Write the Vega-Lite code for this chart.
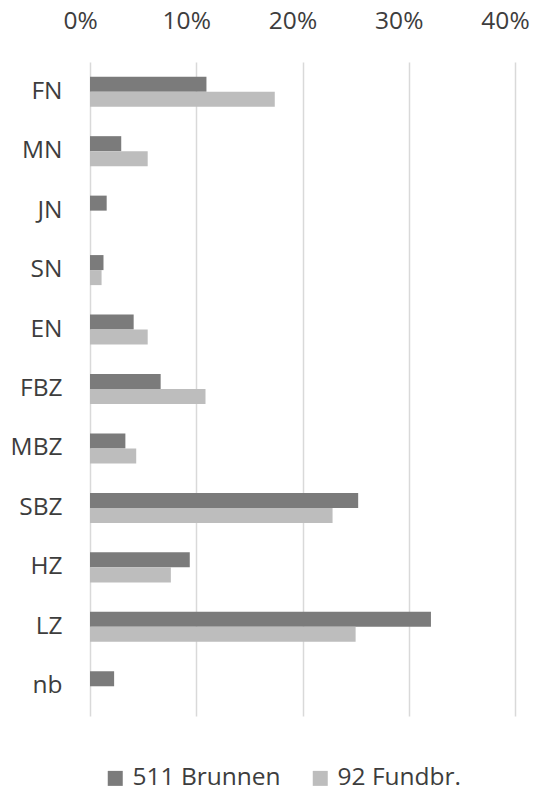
{
  "$schema": "https://vega.github.io/schema/vega-lite/v6.json",
  "width": 425,
  "height": 654,
  "autosize": "none",
  "padding": {"left": 90, "top": 62, "right": 25, "bottom": 83},
  "background": "white",
  "config": {
    "view": {"stroke": null},
    "font": "Open Sans",
    "axis": {"labelFont": "Open Sans", "labelColor": "#3d3d3d", "labelFontSize": 24.5}
  },
  "data": {
    "values": [
      {"cat": "FN", "series": "511 Brunnen", "value": 0.1096},
      {"cat": "FN", "series": "92 Fundbr.", "value": 0.1739},
      {"cat": "MN", "series": "511 Brunnen", "value": 0.0294},
      {"cat": "MN", "series": "92 Fundbr.", "value": 0.0543},
      {"cat": "JN", "series": "511 Brunnen", "value": 0.0157},
      {"cat": "JN", "series": "92 Fundbr.", "value": 0},
      {"cat": "SN", "series": "511 Brunnen", "value": 0.0127},
      {"cat": "SN", "series": "92 Fundbr.", "value": 0.0109},
      {"cat": "EN", "series": "511 Brunnen", "value": 0.0411},
      {"cat": "EN", "series": "92 Fundbr.", "value": 0.0543},
      {"cat": "FBZ", "series": "511 Brunnen", "value": 0.0665},
      {"cat": "FBZ", "series": "92 Fundbr.", "value": 0.1087},
      {"cat": "MBZ", "series": "511 Brunnen", "value": 0.0333},
      {"cat": "MBZ", "series": "92 Fundbr.", "value": 0.0435},
      {"cat": "SBZ", "series": "511 Brunnen", "value": 0.2524},
      {"cat": "SBZ", "series": "92 Fundbr.", "value": 0.2283},
      {"cat": "HZ", "series": "511 Brunnen", "value": 0.0939},
      {"cat": "HZ", "series": "92 Fundbr.", "value": 0.0761},
      {"cat": "LZ", "series": "511 Brunnen", "value": 0.3209},
      {"cat": "LZ", "series": "92 Fundbr.", "value": 0.25},
      {"cat": "nb", "series": "511 Brunnen", "value": 0.0227},
      {"cat": "nb", "series": "92 Fundbr.", "value": 0}
    ]
  },
  "mark": {"type": "bar"},
  "encoding": {
    "y": {
      "field": "cat",
      "type": "nominal",
      "sort": ["FN", "MN", "JN", "SN", "EN", "FBZ", "MBZ", "SBZ", "HZ", "LZ", "nb"],
      "scale": {"paddingInner": 0.495, "paddingOuter": 0.2475},
      "axis": {"title": null, "ticks": false, "domain": false, "labelPadding": 28}
    },
    "yOffset": {"field": "series", "type": "nominal", "sort": ["511 Brunnen", "92 Fundbr."]},
    "x": {
      "field": "value",
      "type": "quantitative",
      "scale": {"domain": [0, 0.4], "nice": false},
      "axis": {
        "orient": "top",
        "title": null,
        "format": ".0%",
        "values": [0, 0.1, 0.2, 0.3, 0.4],
        "ticks": false,
        "domain": false,
        "labelFlush": false,
        "labelPadding": 29,
        "labelOffset": -10,
        "grid": true,
        "gridColor": "#d9d9d9",
        "gridWidth": 1.5
      }
    },
    "color": {
      "field": "series",
      "type": "nominal",
      "sort": ["511 Brunnen", "92 Fundbr."],
      "scale": {"domain": ["511 Brunnen", "92 Fundbr."], "range": ["#7b7b7b", "#bdbdbd"]},
      "legend": {
        "title": null,
        "orient": "none",
        "legendX": 13,
        "legendY": 704,
        "direction": "horizontal",
        "symbolType": "square",
        "symbolSize": 225,
        "symbolStrokeWidth": 0,
        "labelFont": "Open Sans",
        "labelFontSize": 24.5,
        "labelColor": "#3d3d3d",
        "labelOffset": 5,
        "columnPadding": 27
      }
    }
  }
}
